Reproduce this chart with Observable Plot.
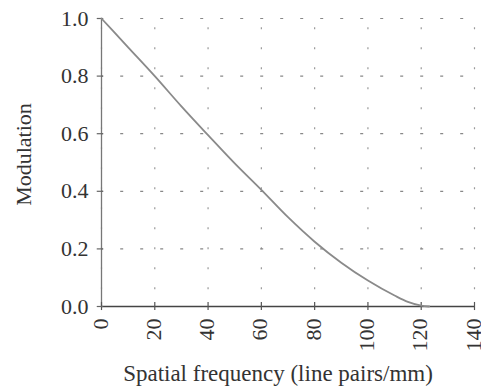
<!DOCTYPE html>
<html>
<head>
<meta charset="utf-8">
<script src="https://cdn.jsdelivr.net/npm/d3@7"></script>
<script src="https://cdn.jsdelivr.net/npm/@observablehq/plot@0.6"></script>
<style>
  html, body { margin: 0; padding: 0; background: #fff; }
  #chart svg { display: block; }
</style>
</head>
<body>
<div id="chart"></div>
<script>
const freq = [0, 10, 20, 30, 40, 50, 60, 70, 80, 90, 100, 110, 115, 120, 123];
const modulation = [1.0, 0.90, 0.80, 0.695, 0.595, 0.497, 0.405, 0.31, 0.225, 0.152, 0.09, 0.038, 0.016, 0.003, 0];
const xTicks = [0, 20, 40, 60, 80, 100, 120, 140];
const yTicks = [0, 0.2, 0.4, 0.6, 0.8, 1.0];
const xLabel = "Spatial frequency (line pairs/mm)";
const yLabel = "Modulation";

const data = freq.map((f, i) => ({f, m: modulation[i]}));

const chart = Plot.plot({
  width: 481,
  height: 390,
  marginLeft: 101,
  marginRight: 7,
  marginTop: 18,
  marginBottom: 84,
  style: {fontFamily: "'Liberation Serif', 'Times New Roman', serif", fontSize: "22px", color: "#333", background: "#fff"},
  x: {domain: [0, 140], label: null},
  y: {domain: [0, 1], label: null},
  marks: [
    Plot.gridX(xTicks, {stroke: "#999", strokeOpacity: 1, strokeWidth: 1.2, strokeDasharray: "2,18", strokeDashoffset: 10.7}),
    Plot.gridY(yTicks, {stroke: "#888", strokeOpacity: 1, strokeWidth: 1.2, strokeDasharray: "3,17", strokeDashoffset: 0.8}),
    Plot.ruleX([0], {stroke: "#777", strokeWidth: 1.3}),
    Plot.ruleY([0], {stroke: "#444", strokeWidth: 1.5}),
    Plot.ruleX(xTicks, {x: d => d, y1: -0.014, y2: 0.014, stroke: "#555", strokeWidth: 1.2}),
    Plot.ruleY(yTicks, {y: d => d, x1: -1.6, x2: 0.8, stroke: "#666", strokeWidth: 1.2}),
    Plot.line(data, {x: "f", y: "m", stroke: "#8a8a8a", strokeWidth: 1.8, curve: "monotone-x"}),
    Plot.axisX(xTicks, {tickSize: 0, tickPadding: 12, tickRotate: -90, dx: -1, tickFormat: d => String(d), label: null, fill: "#333"}),
    Plot.axisY(yTicks, {tickSize: 0, tickPadding: 13, tickFormat: d3.format(".1f"), label: null, fill: "#333"}),
    Plot.text([xLabel], {text: d => d, frameAnchor: "bottom", textAnchor: "middle", dx: -10, dy: 67, lineAnchor: "middle", fontSize: 23, fill: "#333"}),
    Plot.text([yLabel], {text: d => d, frameAnchor: "left", textAnchor: "middle", dx: -78, dy: -8, rotate: -90, lineAnchor: "middle", fontSize: 22, fill: "#333"})
  ]
});
document.getElementById("chart").appendChild(chart);
</script>
</body>
</html>
